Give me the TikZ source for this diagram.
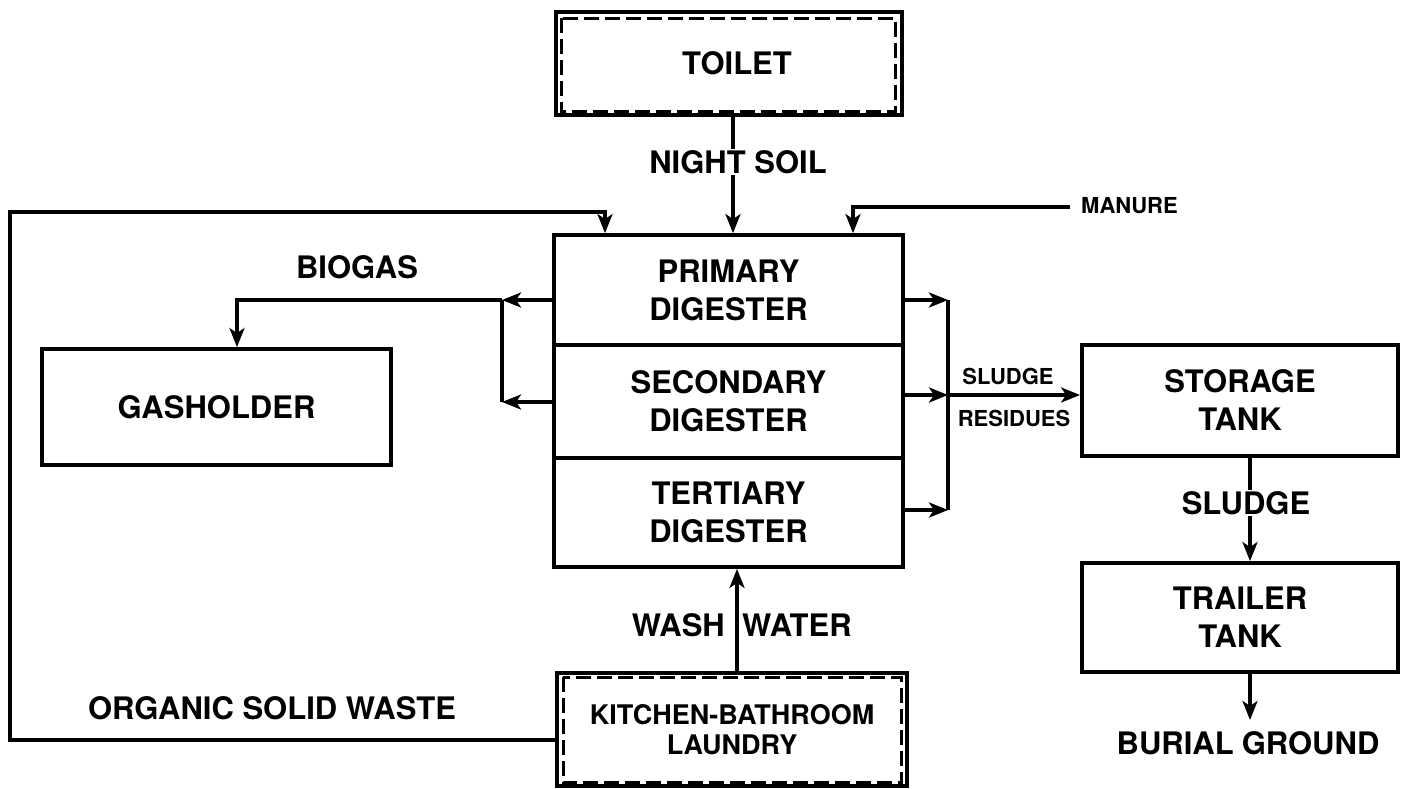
\documentclass[tikz,border=0pt]{standalone}
\usepackage{fontspec}
\setmainfont{TeX Gyre Heros}
\usetikzlibrary{arrows.meta,calc}
\newcommand\bigf{\fontsize{31}{38}\selectfont\bfseries}
\newcommand\midf{\fontsize{27}{30}\selectfont\bfseries}
\newcommand\smallf{\fontsize{22}{26}\selectfont\bfseries}
\tikzset{
  box/.style={draw, line width=3.8pt, align=center, font=\bigf, inner sep=0pt},
  dashbox/.style={draw, line width=3pt, dash pattern=on 15pt off 6pt},
  conn/.style={line width=3.4pt},
  arr/.style={conn, -{Stealth[length=19pt,width=15pt,inset=5pt]}},
  lbl/.style={font=\bigf, inner sep=2pt},
  small/.style={font=\smallf, inner sep=1pt},
}
\begin{document}
\begin{tikzpicture}[x=1pt,y=-1pt]
\useasboundingbox (0,0) rectangle (1424,788);
% boxes
\node[box, minimum width=346pt, minimum height=103pt] (toilet) at (729,63.5) {\hspace{16pt}TOILET};
\draw[dashbox] ([shift={(7pt,-8pt)}]toilet.north west) rectangle ([shift={(-8pt,5pt)}]toilet.south east);
\node[box, minimum width=349pt, minimum height=110pt] (prim) at (728.5,290) {PRIMARY\\DIGESTER};
\node[box, minimum width=349pt, minimum height=113pt] (sec) at (728.5,401.5) {SECONDARY\\DIGESTER};
\node[box, minimum width=349pt, minimum height=109pt] (tert) at (728.5,512.5) {TERTIARY\\DIGESTER};
\node[box, minimum width=349pt, minimum height=116pt] (gas) at (216.5,407) {GASHOLDER};
\node[box, minimum width=316pt, minimum height=111pt] (storage) at (1240,400.5) {STORAGE\\TANK};
\node[box, minimum width=316pt, minimum height=109pt] (trailer) at (1240,617.5) {TRAILER\\TANK};
\node[box, font=\midf, minimum width=350pt, minimum height=113pt] (kitchen) at (732,729.5) {KITCHEN-BATHROOM\\LAUNDRY};
\draw[dashbox] ([shift={(8pt,-6pt)}]kitchen.north west) rectangle ([shift={(-7pt,5pt)}]kitchen.south east);
% coordinates
\coordinate (ow) at (10,740);
\coordinate (otop) at (10,212);
\coordinate (oin) at (605,212);
\coordinate (man) at (1070,207);
\coordinate (mx) at (853,207);
\coordinate (lb1) at (502,300);
\coordinate (lb2) at (502,402);
\coordinate (gx) at (237,300);
\coordinate (rb1) at (948,300);
\coordinate (rb2) at (948,395);
\coordinate (rb3) at (948,510);
\coordinate (wx) at (737,0);
\coordinate (sx) at (1250,0);
\coordinate (bt) at (1250,720);
% night soil
\draw[arr] (toilet.south -| 733,0) -- (prim.north -| 733,0);
\node[lbl, fill=white, inner sep=1pt] (ns) at (738,162) {NIGHT SOIL};
% organic solid waste
\draw[arr] (kitchen.west |- ow) -- (ow) -- (otop) -- (oin) -- (oin |- prim.north);
\node[lbl] (osw) at (272,708) {ORGANIC SOLID WASTE};
% manure
\draw[arr] (man) -- (mx) -- (mx |- prim.north);
\node[small, anchor=west] (manure) at (1080,206) {MANURE};
% biogas
\draw[arr] (prim.west |- lb1) -- (lb1);
\draw[arr] (sec.west |- lb2) -- (lb2);
\draw[conn] (lb1) -- (lb2);
\draw[arr] (lb1) -- (gx) -- (gx |- gas.north);
\node[lbl] (biogas) at (357,267) {BIOGAS};
% sludge residues
\draw[arr] (prim.east |- rb1) -- (rb1);
\draw[arr] (sec.east |- rb2) -- (rb2);
\draw[arr] (tert.east |- rb3) -- (rb3);
\draw[conn] (rb1) -- (rb3);
\draw[arr] (rb2) -- (storage.west |- rb2);
\node[small] (sl) at (1008,376) {SLUDGE};
\node[small] (res) at (1014,418) {RESIDUES};
% wash water
\draw[arr] (kitchen.north -| wx) -- (tert.south -| wx);
\node[lbl, anchor=east] (wash) at (727,625) {WASH};
\node[lbl, anchor=west] (water) at (740,625) {WATER};
% storage -> trailer
\draw[arr] (storage.south -| sx) -- (trailer.north -| sx);
\node[lbl, fill=white, inner sep=1pt] (sl2) at (1246,503) {SLUDGE};
% trailer -> burial
\draw[arr] (trailer.south -| sx) -- (bt);
\node[lbl] (burial) at (1248,743) {BURIAL\hspace{8pt}GROUND};
\end{tikzpicture}
\end{document}
